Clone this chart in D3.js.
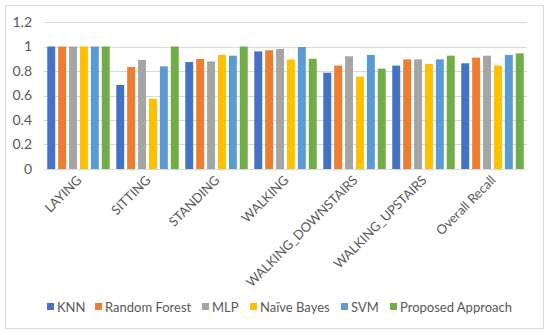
<!DOCTYPE html>
<html>
<head>
<meta charset="utf-8">
<script src="https://d3js.org/d3.v7.min.js"></script>
<style>
  body { margin: 0; background: #fff; }
  text { font-family: Lato, "Open Sans", sans-serif; fill: #595959; }
</style>
</head>
<body>
<div id="chart"></div>
<script>
const categories = ["LAYING", "SITTING", "STANDING", "WALKING", "WALKING_DOWNSTAIRS", "WALKING_UPSTAIRS", "Overall Recall"];
const seriesNames = ["KNN", "Random Forest", "MLP", "Naïve Bayes", "SVM", "Proposed Approach"];
const colors = ["#4472C4", "#ED7D31", "#A5A5A5", "#FFC000", "#5B9BD5", "#70AD47"];
const knn = [1, 0.686, 0.873, 0.96, 0.786, 0.844, 0.863];
const randomForest = [1, 0.833, 0.898, 0.969, 0.844, 0.895, 0.909];
const mlp = [1, 0.89, 0.879, 0.98, 0.92, 0.895, 0.925];
const naiveBayes = [1, 0.574, 0.931, 0.895, 0.754, 0.857, 0.844];
const svmVals = [1, 0.838, 0.925, 0.996, 0.931, 0.895, 0.931];
const proposed = [1, 1, 1, 0.90, 0.819, 0.925, 0.944];
const yTicks = [0, 0.2, 0.4, 0.6, 0.8, 1, 1.2];

const series = [knn, randomForest, mlp, naiveBayes, svmVals, proposed];

const width = 550, height = 335;
const plotLeft = 44, plotRight = 527, plotTop = 22, plotBottom = 169;

const svg = d3.select('#chart').append('svg')
  .attr('width', width)
  .attr('height', height);

// outer frame
svg.append('rect')
  .attr('x', 5.5).attr('y', 5.5)
  .attr('width', 538).attr('height', 323)
  .attr('fill', 'none')
  .attr('stroke', '#D9D9D9');

const x0 = d3.scaleBand().domain(categories).range([plotLeft, plotRight]).paddingInner(0).paddingOuter(0);
const x1 = d3.scaleBand().domain(d3.range(seriesNames.length)).range([0, x0.bandwidth()]).paddingInner(0.27).paddingOuter(0.3);
const y = d3.scaleLinear().domain([0, 1.2]).range([plotBottom, plotTop]);

// gridlines
svg.append('g').selectAll('line')
  .data(yTicks)
  .enter().append('line')
  .attr('x1', plotLeft).attr('x2', plotRight)
  .attr('y1', d => Math.round(y(d)) + 0.5)
  .attr('y2', d => Math.round(y(d)) + 0.5)
  .attr('stroke', '#D9D9D9')
  .attr('stroke-width', 1);

// y labels
svg.append('g').selectAll('text')
  .data(yTicks)
  .enter().append('text')
  .attr('x', 32)
  .attr('y', d => y(d))
  .attr('dy', '0.35em')
  .attr('text-anchor', 'end')
  .style('font-size', '14px')
  .text(d => d3.format('~g')(d));

// bars
const groups = svg.append('g').selectAll('g')
  .data(categories)
  .enter().append('g')
  .attr('transform', d => `translate(${x0(d)},0)`);

groups.selectAll('rect')
  .data((d, i) => series.map((s, j) => ({ j: j, v: s[i] })))
  .enter().append('rect')
  .attr('x', d => x1(d.j))
  .attr('width', x1.bandwidth())
  .attr('y', d => y(d.v))
  .attr('height', d => y(0) - y(d.v))
  .attr('fill', d => colors[d.j]);

// x labels
svg.append('g').selectAll('text')
  .data(categories)
  .enter().append('text')
  .attr('text-anchor', 'end')
  .attr('transform', d => `translate(${x0(d) + x0.bandwidth() / 2 + 4},${plotBottom + 12}) rotate(-45)`)
  .style('font-size', '13px')
  .text(d => d);

// legend
const legendX = [47, 95, 202, 250, 341, 390];
const legend = svg.append('g').selectAll('g')
  .data(seriesNames)
  .enter().append('g')
  .attr('transform', (d, i) => `translate(${legendX[i]},307)`);

legend.append('rect')
  .attr('x', 0).attr('y', -4)
  .attr('width', 7).attr('height', 7)
  .attr('fill', (d, i) => colors[i]);

legend.append('text')
  .attr('x', 10)
  .attr('y', 0)
  .attr('dy', '0.35em')
  .style('font-size', '13px')
  .text(d => d);
</script>
</body>
</html>
